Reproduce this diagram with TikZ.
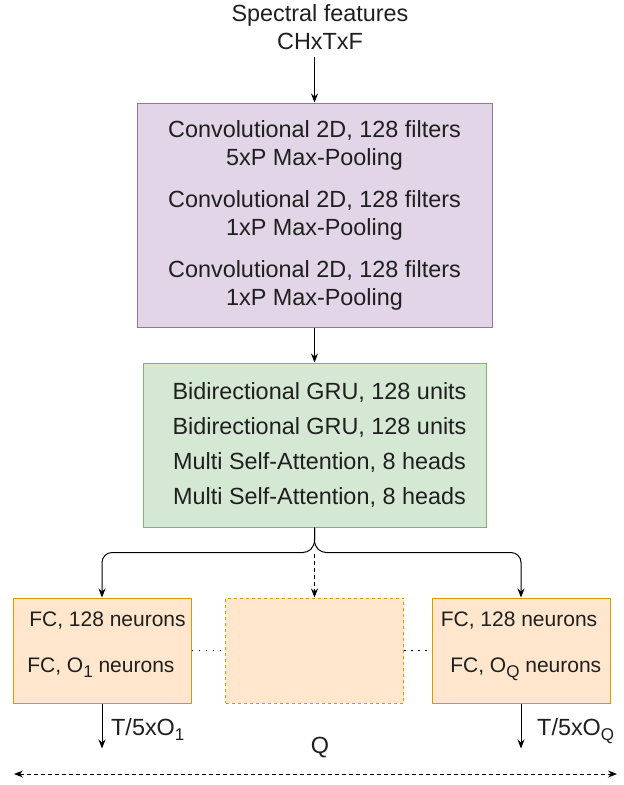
\documentclass[tikz,border=0pt]{standalone}
\usepackage{fontspec}
\setmainfont{Liberation Sans}
\usetikzlibrary{arrows.meta,calc}
\definecolor{convfill}{HTML}{E1D5E7}
\definecolor{convdraw}{HTML}{9673A6}
\definecolor{grufill}{HTML}{D5E8D4}
\definecolor{grudraw}{HTML}{82B366}
\definecolor{fcfill}{HTML}{FFE6CC}
\definecolor{fcdraw}{HTML}{D79B00}
\newcommand{\lowsub}[1]{\raisebox{-5pt}{\fontsize{17}{17}\selectfont #1}}
\begin{document}
\begin{tikzpicture}[x=1pt,y=-1pt,
    every node/.style={font=\fontsize{23.4}{28}\selectfont, text=black!88},
    arr/.style={-{Stealth[length=9pt,width=7pt]}, line width=1pt},
    layer/.style={draw, line width=1pt, align=center, inner sep=0pt},
    fcbox/.style={layer, fill=fcfill, draw=fcdraw, minimum width=178pt, minimum height=105pt,
      font=\fontsize{21}{46}\selectfont}]
  \useasboundingbox (0,0) rectangle (624,785);

  \node[anchor=south, align=center, inner xsep=0pt, inner ysep=7pt] (spec) at (320,57) {Spectral features\\CHxTxF};
  \node[layer, fill=convfill, draw=convdraw, minimum width=355pt, minimum height=224pt] (conv) at (314.5,215)
    {Convolutional 2D, 128 filters\\5xP Max-Pooling\\[14pt]Convolutional 2D, 128 filters\\1xP Max-Pooling\\[14pt]Convolutional 2D, 128 filters\\1xP Max-Pooling};
  \node[layer, fill=grufill, draw=grudraw, minimum width=343pt, minimum height=164pt,
    font=\fontsize{23.4}{35}\selectfont] (gru) at (314.5,445)
    {\hspace*{10pt}Bidirectional GRU, 128 units\\\hspace*{10pt}Bidirectional GRU, 128 units\\\hspace*{10pt}Multi Self-Attention, 8 heads\\\hspace*{10pt}Multi Self-Attention, 8 heads};

  \node[fcbox, align=left] (fc1) at (102,650.5) {\hspace*{11pt}FC, 128 neurons\\\hspace*{9pt}FC, O\lowsub{1} neurons\rule[-17pt]{0pt}{17pt}};
  \node[fcbox, dash pattern=on 3pt off 3pt] (mid) at (314.5,650.5) {};
  \node[fcbox, align=right] (fcq) at (521,650.5) {FC, 128 neurons\hspace*{4pt}\\FC, O\lowsub{Q} neurons\rule[-17pt]{0pt}{17pt}};

  \draw[arr] (conv.north |- spec.south) -- (conv.north);
  \draw[arr] (conv.south) -- (gru.north);

  \coordinate (split) at ($(gru.south)+(0,25)$);
  \draw[arr] (gru.south) -- ++(0,12) .. controls +(0,9) and +(6,0) .. ($(split)+(-12,0)$)
    [rounded corners=10pt] -| (fc1.north);
  \draw[arr] (gru.south) -- ++(0,12) .. controls +(0,9) and +(-6,0) .. ($(split)+(12,0)$)
    [rounded corners=10pt] -| (fcq.north);
  \draw[arr, dash pattern=on 4pt off 3pt] ($(split)+(0,1)$) -- (mid.north);

  \draw[line width=1.2pt, dash pattern=on 1.5pt off 5.5pt] (fc1.east) -- (mid.west);
  \draw[line width=1.2pt, dash pattern=on 1.5pt off 5.5pt] (mid.east) -- (fcq.west);

  \coordinate (out1) at ($(fc1.south)+(0,45)$);
  \coordinate (outq) at ($(fcq.south)+(0,45)$);
  \draw[arr] (fc1.south) -- (out1);
  \draw[arr] (fcq.south) -- (outq);
  \node[anchor=base west, inner sep=0pt] (lab1) at ($(fc1.south)+(9,32)$) {T/5xO\lowsub{1}};
  \node[anchor=base west, inner sep=0pt] (labq) at ($(fcq.south)+(16,32)$) {T/5xO\lowsub{Q}};

  \node[anchor=base, inner sep=0pt] (q) at (320,753) {Q};
  \coordinate (qleft) at (14,774);
  \coordinate (qright) at (617,774);
  \draw[{Stealth[length=9pt,width=7pt]}-{Stealth[length=9pt,width=7pt]}, line width=1pt,
    dash pattern=on 4pt off 3pt] (qleft) -- (qright);
\end{tikzpicture}
\end{document}
